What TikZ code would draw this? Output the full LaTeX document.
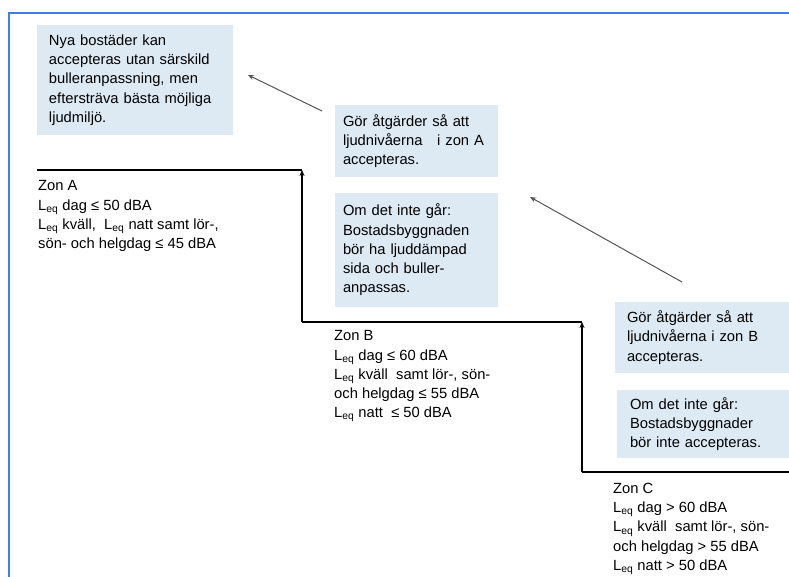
\documentclass[tikz,border=0pt]{standalone}
\usepackage{fontspec}
\setmainfont{Liberation Sans}
\usepackage{xcolor}
\usetikzlibrary{arrows.meta, positioning}

\definecolor{rutbla}{HTML}{DDEAF4}
\definecolor{ramfarg}{HTML}{3C7EF2}
\definecolor{pilgra}{HTML}{555555}

\tikzset{
  ruta/.style={fill=rutbla, align=left, inner xsep=12bp, inner ysep=0pt,
    font=\fontsize{14.8}{19.3}\selectfont},
  zontext/.style={anchor=north west, align=left, inner sep=0pt,
    font=\fontsize{14.8}{19.3}\selectfont},
  trappa/.style={line width=2bp, black},
  pil/.style={line width=1bp, pilgra, ->}
}

\newcommand{\Leq}{L\textsubscript{eq}}

\begin{document}
\begin{tikzpicture}[x=1bp, y=-1bp, >={Stealth[length=6bp,width=5bp]}]
    \useasboundingbox (0,0) rectangle (789,577);
    % Blå ram
    \draw[ramfarg, line width=2bp] (9,577) -- (9,13) -- (789,13);

    % Rutor med text
    \node[ruta, text width=172bp, minimum height=110bp] (nya) at (135,80)
        {Nya bostäder kan\\accepteras utan särskild\\bulleranpassning, men\\eftersträva bästa möjliga\\ljudmiljö.};
    \node[ruta, inner xsep=8bp, text width=147bp, minimum height=72bp] (atgA) at (416.5,141)
        {Gör åtgärder så att\\ljudnivåerna \ \ i zon A\\accepteras.};
    \node[ruta, inner xsep=8bp, text width=147bp, minimum height=114bp] (omA) at (416.5,250)
        {Om det inte går:\\Bostadsbyggnaden\\bör ha ljuddämpad\\sida och buller-\\anpassas.};
    \node[ruta, text width=150bp, minimum height=71bp] (atgB) at (702,337.5)
        {Gör åtgärder så att\\ljudnivåerna i zon B\\accepteras.};
    \node[ruta, inner xsep=13bp, text width=146bp, minimum height=68bp] (omB) at (703,424)
        {Om det inte går:\\Bostadsbyggnader\\bör inte accepteras.};

    % Zoner
    \node[zontext] (zonA) at (38,180.5)
        {Zon A\\\Leq{} dag ≤ 50 dBA\\\Leq{} kväll, \ \Leq{} natt samt lör-,\\sön- och helgdag ≤ 45 dBA};
    \node[zontext] (zonB) at (334,330.5)
        {Zon B\\\Leq{} dag ≤ 60 dBA\\\Leq{} kväll \ samt lör-, sön-\\och helgdag ≤ 55 dBA\\\Leq{} natt \ ≤ 50 dBA};
    \node[zontext] (zonC) at (613,483)
        {Zon C\\\Leq{} dag > 60 dBA\\\Leq{} kväll \ samt lör-, sön-\\och helgdag > 55 dBA\\\Leq{} natt > 50 dBA};

    % Trappan
    \coordinate (a0) at (37,170);
    \coordinate (a1) at (302,170);
    \coordinate (b0) at (302,322);
    \coordinate (b1) at (582,322);
    \coordinate (c0) at (582,472);
    \coordinate (c1) at (789,472);
    \draw[trappa] (a0) -- (a1);
    \draw[trappa, ->] (b0) -- (a1);
    \draw[trappa] (b0) -- (b1);
    \draw[trappa, ->] (c0) -- (b1);
    \draw[trappa] (c0) -- (c1);

    % Pilar mellan rutorna
    \coordinate (p1) at (322,111);
    \coordinate (q1) at (248,75);
    \coordinate (p2) at (682,282);
    \coordinate (q2) at (530,197);
    \draw[pil] (p1) -- (q1);
    \draw[pil] (p2) -- (q2);
\end{tikzpicture}
\end{document}
